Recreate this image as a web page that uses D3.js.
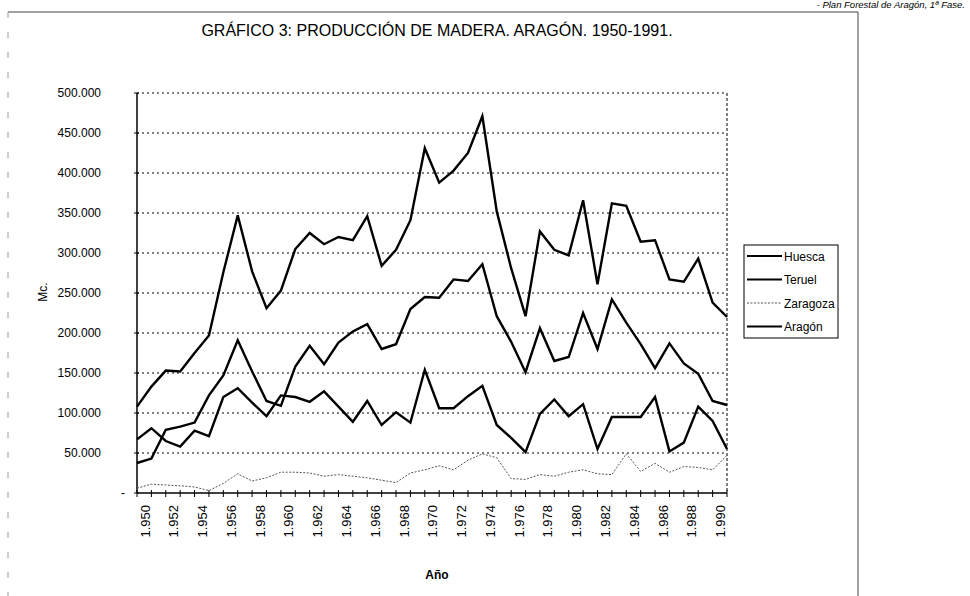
<!DOCTYPE html>
<html lang="es">

<head>
    <meta charset="UTF-8">
    <title>Producción de madera. Aragón</title>
    <style>
        body { margin: 0; background: #fff; }
        svg { font-family: "Liberation Sans", Arial, sans-serif; }
    </style>
</head>

<body>
    <svg id="chart" width="970" height="596"></svg>
    <script src="https://d3js.org/d3.v7.min.js"></script>
    <script>
        // años 1950 - 1991
        let years = d3.range(1950, 1992)
        // values in m3 (thousands)
        let huesca = [37.5, 43, 79, 83, 88, 122, 147, 191, 152, 115,
            109, 158, 184, 161, 188, 202, 211, 180, 186, 230,
            245, 244, 267, 265, 286, 221, 189, 151, 206, 165,
            170, 225, 180, 242, 213, 186, 156, 187, 162, 149, 115, 110]
        let teruel = [67, 81, 65, 58, 78, 71, 120, 131, 113, 96,
            122, 120, 114, 127, 108, 89, 115, 85, 101, 88,
            154, 106, 106, 121, 134, 85, 69, 51, 99, 117,
            96, 111, 55, 95, 95, 95, 120, 52, 63, 108, 90, 55]
        let zaragoza = [6, 11, 10, 9, 7.5, 3, 12, 24, 15, 19,
            26, 26, 25, 21, 23, 21, 19, 16, 13, 25,
            29, 34, 29, 41, 49, 44, 18, 17, 23, 21,
            26, 29, 24, 23, 49, 27, 37, 26, 33, 32, 29, 47]
        let aragon = [108, 133, 153, 152, 175, 197, 276, 347, 277, 231,
            253, 305, 325, 311, 320, 316, 346, 284, 304, 341,
            431, 388, 403, 425, 471, 352, 281, 221, 327, 304,
            297, 366, 261, 362, 359, 314, 316, 267, 264, 293, 238, 220]
        let yTicks = [0, 50000, 100000, 150000, 200000, 250000, 300000, 350000, 400000, 450000, 500000]
        let xLabelYears = d3.range(1950, 1991, 2)
        let seriesNames = ['Huesca', 'Teruel', 'Zaragoza', 'Aragón']

        let svg = d3.select('#chart')
        let es = d3.formatLocale({ decimal: ',', thousands: '.', grouping: [3], currency: ['', ' €'] })
        let fmt = es.format(',')

        let x = d3.scaleLinear().domain([1950, 1991]).range([137, 727])
        let y = d3.scaleLinear().domain([0, 500000]).range([493, 93])

        // marco de la pagina
        svg.append('line').attr('x1', 8).attr('x2', 858).attr('y1', 12).attr('y2', 12)
            .attr('stroke', '#444').attr('stroke-width', 1)
        svg.append('line').attr('x1', 858).attr('x2', 858).attr('y1', 12).attr('y2', 596)
            .attr('stroke', '#444').attr('stroke-width', 1)
        svg.append('line').attr('x1', 8).attr('x2', 8).attr('y1', 12).attr('y2', 596)
            .attr('stroke', '#999').attr('stroke-width', 1).attr('stroke-dasharray', '6,14')

        svg.append('text').attr('x', 965).attr('y', 8).attr('text-anchor', 'end')
            .attr('font-size', 9.5).attr('font-style', 'italic')
            .text('- Plan Forestal de Aragón, 1ª Fase.')

        svg.append('text').attr('x', 437).attr('y', 36).attr('text-anchor', 'middle')
            .attr('font-size', 16)
            .text('GRÁFICO 3: PRODUCCIÓN DE MADERA. ARAGÓN. 1950-1991.')

        // gridlines
        svg.append('g')
            .selectAll('line')
            .data(yTicks.filter(d => d > 0))
            .enter()
            .append('line')
            .attr('x1', x(1950)).attr('x2', x(1991))
            .attr('y1', d => y(d)).attr('y2', d => y(d))
            .attr('stroke', '#000').attr('stroke-width', 1.2)
            .attr('stroke-dasharray', '2,3')

        // right border of plot area
        svg.append('line').attr('x1', x(1991)).attr('x2', x(1991)).attr('y1', y(500000)).attr('y2', y(0))
            .attr('stroke', '#000').attr('stroke-width', 1).attr('stroke-dasharray', '3,2')

        // y axis
        let yAxis = d3.axisLeft(y).tickValues(yTicks).tickSize(0).tickPadding(36)
            .tickFormat(d => d === 0 ? '-' : fmt(d))
        let gy = svg.append('g').attr('transform', 'translate(' + x(1950) + ',0)').call(yAxis)
        gy.select('.domain').remove()
        gy.selectAll('text').attr('font-size', 12).attr('fill', '#000')
            .attr('font-family', '"Liberation Sans", Arial, sans-serif')
        gy.selectAll('.tick').filter(d => d === 0).select('text').attr('x', -12)
        svg.append('g').selectAll('line').data(yTicks).enter().append('line')
            .attr('x1', x(1950) - 3).attr('x2', x(1950) + 2)
            .attr('y1', d => y(d)).attr('y2', d => y(d))
            .attr('stroke', '#000')
        svg.append('line').attr('x1', x(1950)).attr('x2', x(1950)).attr('y1', y(500000)).attr('y2', y(0))
            .attr('stroke', '#000').attr('stroke-width', 1.5)

        // x axis
        svg.append('line').attr('x1', x(1950)).attr('x2', x(1991)).attr('y1', y(0)).attr('y2', y(0))
            .attr('stroke', '#000').attr('stroke-width', 1.5)
        svg.append('g').selectAll('line').data(years).enter().append('line')
            .attr('x1', d => x(d)).attr('x2', d => x(d))
            .attr('y1', y(0) - 3).attr('y2', y(0) + 4)
            .attr('stroke', '#000')
        svg.append('g').selectAll('text').data(xLabelYears).enter().append('text')
            .attr('transform', d => 'translate(' + (x(d) + 12.5) + ',' + (y(0) + 12) + ') rotate(-90)')
            .attr('text-anchor', 'end')
            .attr('font-size', 13)
            .text(d => fmt(d))

        svg.append('text').attr('x', 437).attr('y', 579).attr('text-anchor', 'middle')
            .attr('font-size', 12).attr('font-weight', 'bold').text('Año')
        svg.append('text').attr('transform', 'translate(47,292) rotate(-90)')
            .attr('text-anchor', 'middle').attr('font-size', 12).text('Mc.')

        // lineas
        let allSeries = [huesca, teruel, zaragoza, aragon]
        let line = d3.line()
            .x((d, i) => x(years[i]))
            .y(d => y(d * 1000))
        svg.append('g')
            .selectAll('path')
            .data(allSeries)
            .enter()
            .append('path')
            .attr('d', d => line(d))
            .attr('fill', 'none')
            .attr('stroke', (d, i) => i === 2 ? '#555' : '#000')
            .attr('stroke-width', (d, i) => i === 2 ? 1 : 2.4)
            .attr('stroke-dasharray', (d, i) => i === 2 ? '2,1.5' : null)
            .attr('stroke-linejoin', 'miter')

        // legend
        let legend = svg.append('g').attr('transform', 'translate(744,245)')
        legend.append('rect').attr('width', 94).attr('height', 93)
            .attr('fill', '#fff').attr('stroke', '#000').attr('stroke-width', 1)
        let items = legend.selectAll('g.item')
            .data(seriesNames)
            .enter()
            .append('g')
            .attr('transform', (d, i) => 'translate(0,' + (11 + i * 23.5) + ')')
        items.append('line').attr('x1', 3).attr('x2', 38).attr('y1', 0).attr('y2', 0)
            .attr('stroke', (d, i) => i === 2 ? '#555' : '#000')
            .attr('stroke-width', (d, i) => i === 2 ? 1 : 2)
            .attr('stroke-dasharray', (d, i) => i === 2 ? '2,1.5' : null)
        items.append('text').attr('x', 40).attr('y', 4.5).attr('font-size', 12).text(d => d)
    </script>
</body>

</html>
